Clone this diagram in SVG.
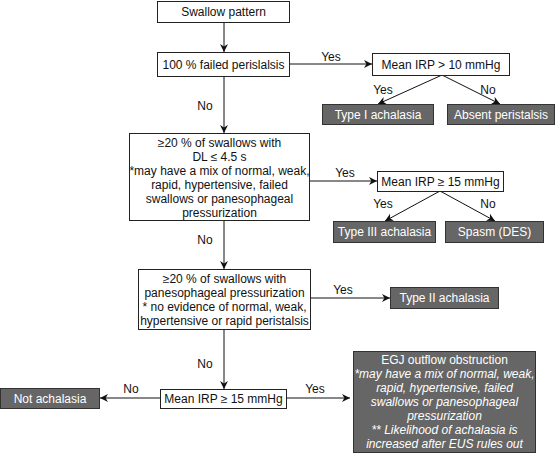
<svg xmlns="http://www.w3.org/2000/svg" width="555" height="453" viewBox="0 0 555 453">
<defs>
<marker id="ah" viewBox="0 0 10 10" refX="10" refY="5" markerWidth="8" markerHeight="8" markerUnits="userSpaceOnUse" orient="auto">
<path d="M0,0 L10,5 L0,10 L3,5 Z" fill="#111"/>
</marker>
</defs>
<style>
.box{fill:#fff;stroke:#222;stroke-width:1}
.dark{fill:#666;stroke:#333;stroke-width:1}
text{font-family:"Liberation Sans",Arial,sans-serif;font-size:12px;fill:#111}
.c{text-anchor:middle}
.w{fill:#fff}
.i{font-style:italic}
.ln{stroke:#111;stroke-width:1;fill:none}
</style>
<rect width="555" height="453" fill="#fff"/>
<g id="connectors">
<line class="ln" x1="224" y1="22" x2="224" y2="52" marker-end="url(#ah)"/>
<line class="ln" x1="289" y1="64" x2="372" y2="64" marker-end="url(#ah)"/>
<text x="331" y="61" class="c">Yes</text>
<line class="ln" x1="442" y1="75" x2="378" y2="104" marker-end="url(#ah)"/>
<line class="ln" x1="442" y1="75" x2="500" y2="104" marker-end="url(#ah)"/>
<text x="383" y="94" class="c">Yes</text>
<text x="488" y="94" class="c">No</text>
<line class="ln" x1="224" y1="76" x2="224" y2="133" marker-end="url(#ah)"/>
<text x="205" y="110" class="c">No</text>
<line class="ln" x1="309" y1="181" x2="377" y2="181" marker-end="url(#ah)"/>
<text x="345" y="177" class="c">Yes</text>
<line class="ln" x1="440" y1="191" x2="385" y2="221" marker-end="url(#ah)"/>
<line class="ln" x1="440" y1="191" x2="495" y2="221" marker-end="url(#ah)"/>
<text x="383" y="208" class="c">Yes</text>
<text x="488" y="208" class="c">No</text>
<line class="ln" x1="224" y1="220" x2="224" y2="269" marker-end="url(#ah)"/>
<text x="205" y="244" class="c">No</text>
<line class="ln" x1="310" y1="298" x2="390" y2="298" marker-end="url(#ah)"/>
<text x="343" y="294" class="c">Yes</text>
<line class="ln" x1="224" y1="329" x2="224" y2="389" marker-end="url(#ah)"/>
<text x="205" y="368" class="c">No</text>
<line class="ln" x1="160" y1="398" x2="100" y2="398" marker-end="url(#ah)"/>
<text x="131" y="393" class="c">No</text>
<line class="ln" x1="286" y1="398" x2="350" y2="398" marker-end="url(#ah)"/>
<text x="315" y="393" class="c">Yes</text>
</g>
<g id="n_swallow">
<rect class="box" x="157.5" y="1.5" width="132" height="21"/>
<text x="223.5" y="16" class="c">Swallow pattern</text>
</g>
<g id="n_failed">
<rect class="box" x="157.5" y="52.5" width="132" height="24"/>
<text x="223.5" y="69" class="c">100 % failed perislalsis</text>
</g>
<g id="n_irp10">
<rect class="box" x="372.5" y="53.5" width="137" height="22"/>
<text x="441" y="69" class="c">Mean IRP &gt; 10 mmHg</text>
</g>
<g id="n_type1">
<rect class="dark" x="322.5" y="104.5" width="111" height="20"/>
<text x="378" y="119" class="c w">Type I achalasia</text>
</g>
<g id="n_absent">
<rect class="dark" x="447.5" y="104.5" width="107" height="20"/>
<text x="501" y="119" class="c w">Absent peristalsis</text>
</g>
<g id="n_dl">
<rect class="box" x="129.5" y="133.5" width="180" height="87"/>
<text class="c" x="219.5" y="147">≥20 % of swallows with</text>
<text class="c" x="219.5" y="161">DL ≤ 4.5 s</text>
<text class="c" x="219.5" y="175">*may have a mix of normal, weak,</text>
<text class="c" x="219.5" y="189">rapid, hypertensive, failed</text>
<text class="c" x="219.5" y="203">swallows or panesophageal</text>
<text class="c" x="219.5" y="217">pressurization</text>
</g>
<g id="n_irp15a">
<rect class="box" x="377.5" y="171.5" width="126" height="20"/>
<text x="440.5" y="186" class="c">Mean IRP ≥ 15 mmHg</text>
</g>
<g id="n_type3">
<rect class="dark" x="333.5" y="221.5" width="102" height="21"/>
<text x="384.5" y="236" class="c w">Type III achalasia</text>
</g>
<g id="n_spasm">
<rect class="dark" x="445.5" y="221.5" width="98" height="21"/>
<text x="494.5" y="236" class="c w">Spasm (DES)</text>
</g>
<g id="n_pan">
<rect class="box" x="138.5" y="269.5" width="172" height="60"/>
<text class="c" x="224.5" y="283">≥20 % of swallows with</text>
<text class="c" x="224.5" y="297">panesophageal pressurization</text>
<text class="c" x="224.5" y="311">* no evidence of normal, weak,</text>
<text class="c" x="224.5" y="325">hypertensive or rapid peristalsis</text>
</g>
<g id="n_type2">
<rect class="dark" x="390.5" y="287.5" width="108" height="21"/>
<text x="444.5" y="302" class="c w">Type II achalasia</text>
</g>
<g id="n_irp15b">
<rect class="box" x="160.5" y="389.5" width="126" height="19"/>
<text x="223.5" y="403" class="c">Mean IRP ≥ 15 mmHg</text>
</g>
<g id="n_not">
<rect class="dark" x="0.5" y="388.5" width="99" height="20"/>
<text x="50" y="403" class="c w">Not achalasia</text>
</g>
<g id="n_egj">
<rect class="dark" x="353.5" y="351.5" width="182" height="101"/>
<text class="c w" x="444.5" y="364">EGJ outflow obstruction</text>
<text class="c w i" x="444.5" y="378">*may have a mix of normal, weak,</text>
<text class="c w i" x="444.5" y="392">rapid, hypertensive, failed</text>
<text class="c w i" x="444.5" y="406">swallows or panesophageal</text>
<text class="c w i" x="444.5" y="420">pressurization</text>
<text class="c w i" x="444.5" y="434">** Likelihood of achalasia is</text>
<text class="c w i" x="444.5" y="448">increased after EUS rules out</text>
</g>
</svg>
